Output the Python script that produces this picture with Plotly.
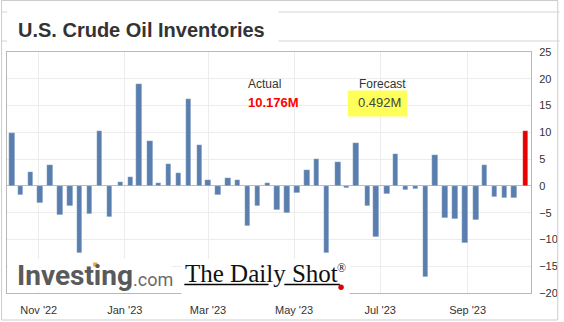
import plotly.graph_objects as go

# ---- data ----
release_dates = [
    "2022-10-13", "2022-10-19", "2022-10-26", "2022-11-02", "2022-11-09", "2022-11-16",
    "2022-11-23", "2022-11-30", "2022-12-07", "2022-12-14", "2022-12-21", "2022-12-29",
    "2023-01-05", "2023-01-11", "2023-01-19", "2023-01-25", "2023-02-01", "2023-02-08",
    "2023-02-15", "2023-02-23", "2023-03-01", "2023-03-08", "2023-03-15", "2023-03-22",
    "2023-03-29", "2023-04-05", "2023-04-12", "2023-04-19", "2023-04-26", "2023-05-03",
    "2023-05-10", "2023-05-17", "2023-05-24", "2023-06-01", "2023-06-07", "2023-06-14",
    "2023-06-22", "2023-06-28", "2023-07-06", "2023-07-12", "2023-07-19", "2023-07-26",
    "2023-08-02", "2023-08-09", "2023-08-16", "2023-08-23", "2023-08-30", "2023-09-07",
    "2023-09-13", "2023-09-20", "2023-09-27", "2023-10-04", "2023-10-12",
]
inventory_change = [
    9.880, -1.725, 2.588, -3.115, 3.925, -5.400,
    -3.691, -12.581, -5.186, 10.231, -5.895, 0.718,
    1.694, 18.962, 8.408, 0.533, 4.140, 2.423,
    16.283, 7.648, 1.166, -1.694, 1.550, 1.117,
    -7.489, -3.739, 0.597, -4.581, -5.054, -1.280,
    2.951, 5.040, -12.456, 4.489, -0.451, 7.919,
    -3.831, -9.603, -1.508, 5.946, -0.708, -0.600,
    -17.049, 5.851, -5.960, -6.135, -10.584, -6.307,
    3.955, -2.135, -2.169, -2.224, 10.176,
]
tick_dates = ["2022-11-01", "2023-01-01", "2023-03-01", "2023-05-01", "2023-07-01", "2023-09-01"]
tick_labels = ["Nov '22", "Jan '23", "Mar '23", "May '23", "Jul '23", "Sep '23"]
y_ticks = [-20, -15, -10, -5, 0, 5, 10, 15, 20, 25]

title_text = "U.S. Crude Oil Inventories"
actual_label, actual_value = "Actual", "10.176M"
forecast_label, forecast_value = "Forecast", "0.492M"

# ---- layout geometry (pixels) ----
W, H = 564, 322
L, R, T, B = 6, 535, 52, 293

def fx(px):
    return (px - L) / (R - L)

def fy(py):
    return (B - py) / (B - T)

BLUE = "#5a7fae"
RED = "#e60000"
colors = [BLUE] * (len(inventory_change) - 1) + [RED]
DAY_MS = 86400000

fig = go.Figure(
    go.Bar(
        x=release_dates,
        y=inventory_change,
        marker=dict(color=colors, line=dict(color="rgba(255,255,255,0.5)", width=0.5)),
        width=[3.9 * DAY_MS] * len(release_dates),
        hoverinfo="x+y",
    )
)

FONT = "Liberation Sans, Arial, sans-serif"
LINE = "#cccccc"

shapes = []
# outer widget frame
shapes.append(dict(type="rect", xref="paper", yref="paper", x0=fx(0.5), x1=fx(562), y0=fy(0.5), y1=fy(320),
                   line=dict(color=LINE, width=1), layer="above"))
for yy in (12, 41):
    shapes.append(dict(type="line", xref="paper", yref="paper", x0=fx(0), x1=fx(564), y0=fy(yy), y1=fy(yy),
                       line=dict(color="#d4d4d4", width=1), layer="above"))
# title white box
shapes.append(dict(type="rect", xref="paper", yref="paper", x0=fx(6), x1=fx(280), y0=fy(4), y1=fy(48),
                   fillcolor="white", line=dict(width=0), layer="above"))
# logo backgrounds
shapes.append(dict(type="rect", xref="paper", yref="paper", x0=fx(7), x1=fx(172), y0=fy(259), y1=fy(292),
                   fillcolor="white", line=dict(width=0), layer="above"))
shapes.append(dict(type="rect", xref="paper", yref="paper", x0=fx(182), x1=fx(352), y0=fy(259), y1=fy(296),
                   fillcolor="white", line=dict(width=0), layer="above"))
# forecast highlight
shapes.append(dict(type="rect", xref="paper", yref="paper", x0=fx(350), x1=fx(410), y0=fy(90.5), y1=fy(116.5),
                   fillcolor="#ffff5a", line=dict(width=0), layer="above"))
# Daily Shot underline + dot
for a, b in ((185, 270), (286, 342)):
    shapes.append(dict(type="line", xref="paper", yref="paper", x0=fx(a), x1=fx(b), y0=fy(284.5), y1=fy(284.5),
                       line=dict(color="black", width=1.5), layer="above"))
shapes.append(dict(type="circle", xref="paper", yref="paper", x0=fx(340.5), x1=fx(346), y0=fy(284.6), y1=fy(290.1),
                   fillcolor="#e00000", line=dict(width=0), layer="above"))
# Investing orange dot on the i
shapes.append(dict(type="rect", xref="paper", yref="paper", x0=fx(93), x1=fx(97.5), y0=fy(262.5), y1=fy(266.5),
                   fillcolor="#f5a623", line=dict(width=0), layer="above"))

annotations = [
    dict(text="<b>" + title_text + "</b>", x=fx(15), y=fy(30), xanchor="left", yanchor="middle",
         font=dict(family=FONT, size=20, color="#333333")),
    dict(text=actual_label, x=fx(247), y=fy(84), xanchor="left", yanchor="middle",
         font=dict(family=FONT, size=12, color="#333333")),
    dict(text="<b>" + actual_value + "</b>", x=fx(247), y=fy(102), xanchor="left", yanchor="middle",
         font=dict(family=FONT, size=13, color="#ff0000")),
    dict(text=forecast_label, x=fx(359), y=fy(84), xanchor="left", yanchor="middle",
         font=dict(family=FONT, size=12, color="#333333")),
    dict(text=forecast_value, x=fx(358), y=fy(102), xanchor="left", yanchor="middle",
         font=dict(family=FONT, size=13, color="#444444")),
    dict(text="<b>Investing</b>", x=fx(14), y=fy(275), xanchor="left", yanchor="middle",
         font=dict(family="Roboto, Arial, sans-serif", size=28, color="#5a5a5a")),
    dict(text=".com", x=fx(131), y=fy(279), xanchor="left", yanchor="middle",
         font=dict(family="Roboto, Arial, sans-serif", size=18, color="#6a6a6a")),
    dict(text="The Daily Shot", x=fx(184), y=fy(273), xanchor="left", yanchor="middle",
         font=dict(family="Liberation Serif, Times New Roman, serif", size=25, color="#111111")),
    dict(text="®", x=fx(337), y=fy(268), xanchor="left", yanchor="middle",
         font=dict(family="Liberation Serif, Times New Roman, serif", size=12, color="#111111")),
]
for a in annotations:
    a.update(xref="paper", yref="paper", showarrow=False)

fig.update_layout(
    width=W, height=H,
    margin=dict(l=L, r=W - R, t=T, b=H - B, pad=0),
    paper_bgcolor="white", plot_bgcolor="white",
    showlegend=False,
    bargap=0,
    shapes=shapes,
    annotations=annotations,
    xaxis=dict(
        type="date",
        range=["2022-10-09 12:00", "2023-10-15 22:00"],
        tickvals=tick_dates, ticktext=tick_labels,
        showgrid=True, gridcolor="#ececec", gridwidth=1,
        showline=True, linecolor="#b8b8b8", mirror=True,
        ticks="", ticklabelstandoff=7,
        tickfont=dict(family=FONT, size=11, color="#333333"),
        zeroline=False, fixedrange=True,
    ),
    yaxis=dict(
        side="right",
        range=[-20, 25],
        tickvals=y_ticks,
        showgrid=True, gridcolor="#ececec", gridwidth=1,
        zeroline=True, zerolinecolor="#bcbcbc", zerolinewidth=1,
        showline=True, linecolor="#b8b8b8", mirror=True,
        ticks="", ticklabelstandoff=5,
        tickfont=dict(family=FONT, size=11, color="#333333"),
        fixedrange=True,
    ),
)

fig.write_html("out.html")
